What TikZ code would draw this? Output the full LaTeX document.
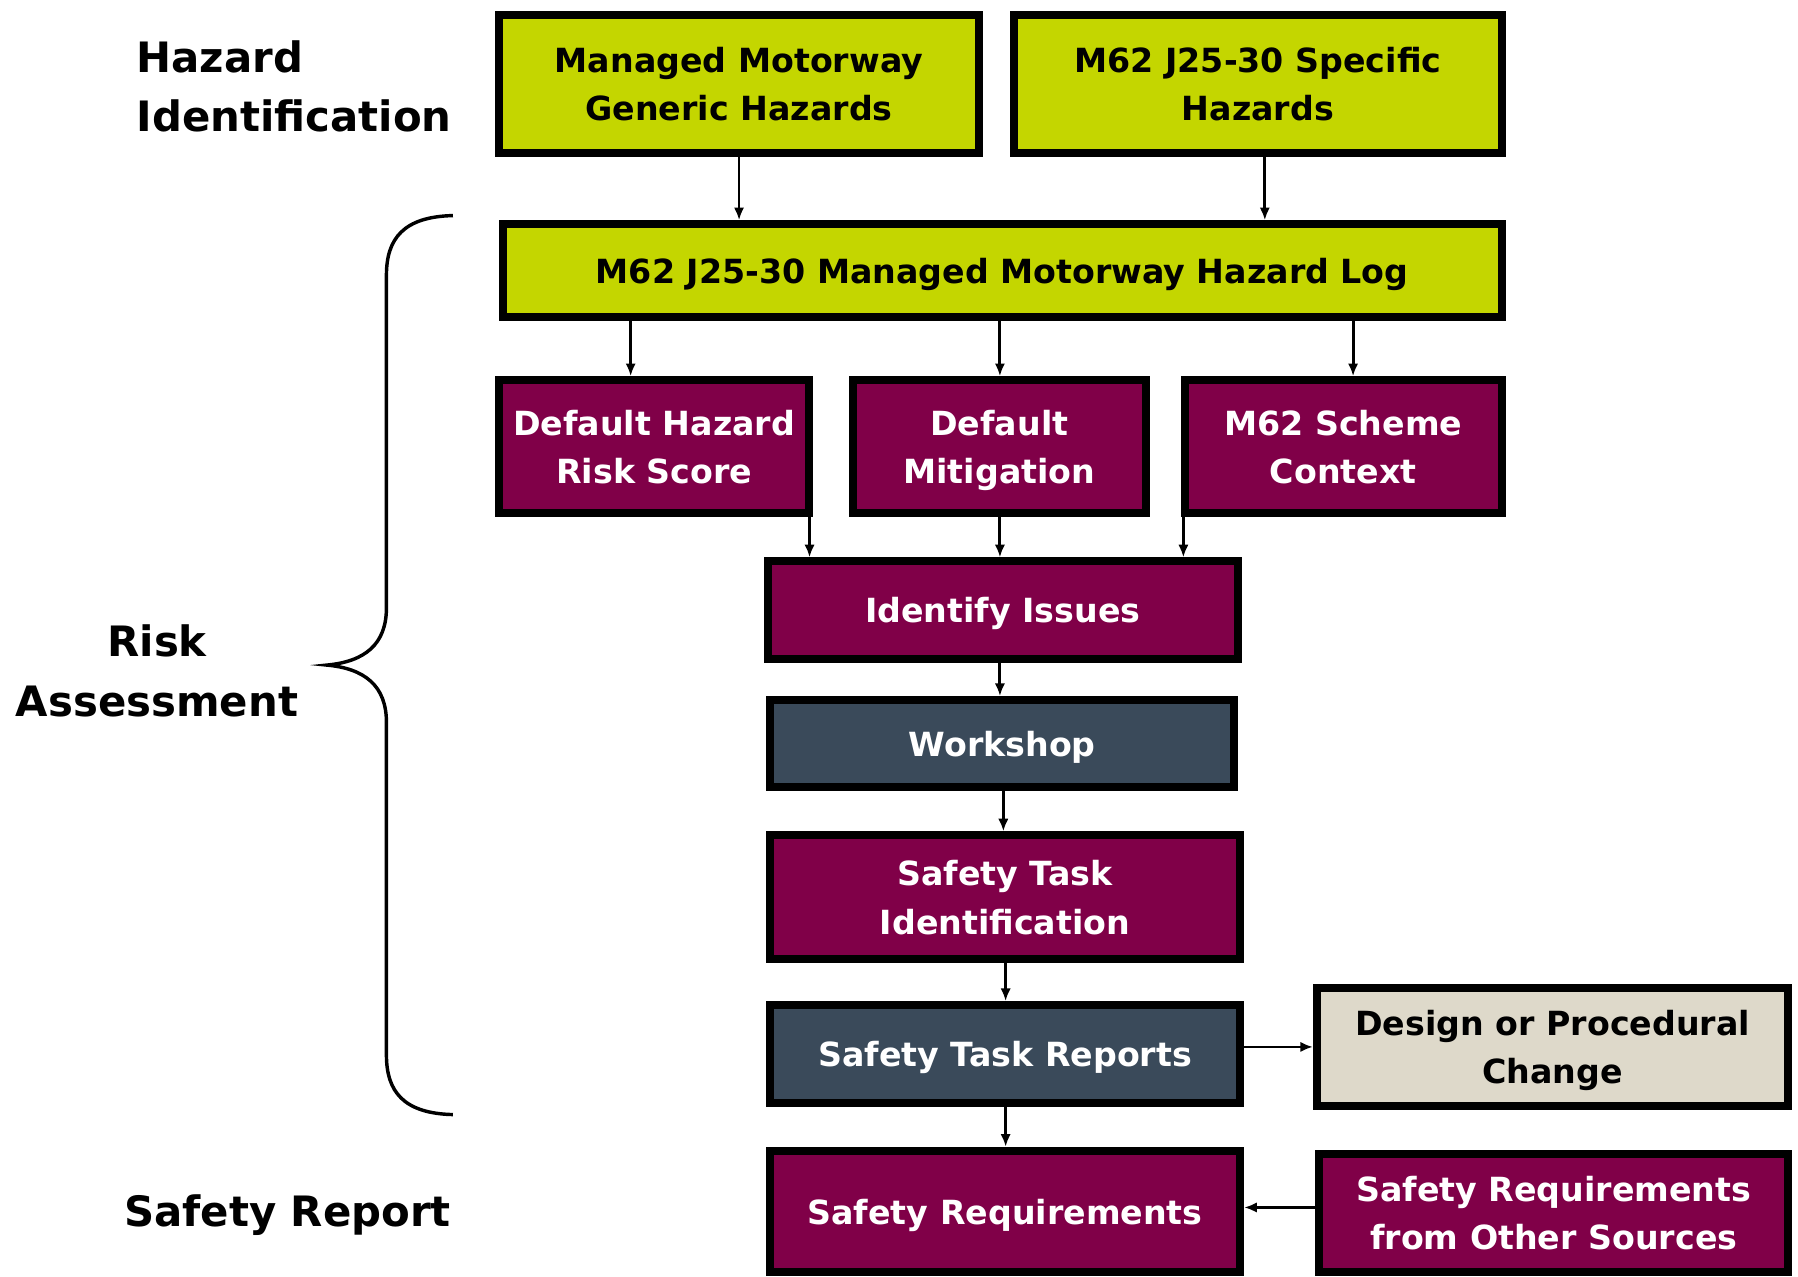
\documentclass[tikz,border=0pt]{standalone}
\usepackage{fontspec}
\setmainfont{DejaVu Sans}
\usetikzlibrary{arrows.meta}
\definecolor{limeg}{RGB}{196,214,0}
\definecolor{maroonc}{RGB}{128,0,72}
\definecolor{slatec}{RGB}{58,74,90}
\definecolor{beigec}{RGB}{222,217,202}
\begin{document}
\begin{tikzpicture}[x=1pt,y=-1pt,
  box/.style={draw=black,line width=7pt,rectangle,align=center,inner sep=0pt,text depth=0pt,
    font=\bfseries\fontsize{29}{42}\selectfont},
  limebox/.style={box,fill=limeg,text=black},
  marbox/.style={box,fill=maroonc,text=white},
  slatebox/.style={box,fill=slatec,text=white},
  beigebox/.style={box,fill=beigec,text=black},
  arr/.style={-{Latex[length=11pt,width=9pt]},line width=2.5pt},
  lbl/.style={font=\bfseries\fontsize{36.5}{52}\selectfont,inner sep=0pt,text depth=0pt,text=black}
]
\fill[white] (0,0) rectangle (1568,1113);
\useasboundingbox (0,0) rectangle (1568,1113);

% boxes
\node[limebox,minimum width=418,minimum height=120] (A) at (644.5,73.5) {Managed Motorway\\Generic Hazards};
\node[limebox,minimum width=425,minimum height=120] (B) at (1097,73.5) {M62 J25-30 Specific\\Hazards};
\node[limebox,minimum width=871,minimum height=81] (Log) at (874,236) {M62 J25-30 Managed Motorway Hazard Log};
\node[marbox,minimum width=270,minimum height=116] (DH) at (570.5,389.5) {Default Hazard\\Risk Score};
\node[marbox,minimum width=256,minimum height=116] (DM) at (871.5,389.5) {Default\\Mitigation};
\node[marbox,minimum width=276,minimum height=116] (SC) at (1171.5,389.5) {M62 Scheme\\Context};
\node[marbox,minimum width=410,minimum height=85] (II) at (874.5,532) {Identify Issues};
\node[slatebox,minimum width=405,minimum height=76] (WS) at (874,648.5) {Workshop};
\node[marbox,minimum width=410,minimum height=108] (STI) at (876.5,782.5) {Safety Task\\Identification};
\node[slatebox,minimum width=410,minimum height=85] (STR) at (876.5,919) {Safety Task Reports};
\node[beigebox,minimum width=411,minimum height=103] (DPC) at (1354,913) {Design or Procedural\\Change};
\node[marbox,minimum width=410,minimum height=106] (SR) at (876.5,1056.5) {Safety Requirements};
\node[marbox,minimum width=409,minimum height=103] (SRO) at (1355,1058) {Safety Requirements\\from Other Sources};

% side labels
\node[lbl,anchor=west,align=left] (HI) at (119,75) {Hazard\\Identification};
\node[lbl,align=center] (RA) at (137,585) {Risk\\Assessment};
\node[lbl,anchor=west] (SRep) at (108,1056) {Safety Report};

% brace
\draw[line width=3pt] (395,188) .. controls (352,189) and (337,208) .. (337,240)
  -- (337,530) .. controls (337,562) and (318,577) .. (285,580)
  .. controls (318,583) and (337,598) .. (337,630)
  -- (337,920) .. controls (337,952) and (352,971) .. (395,972);

% arrow columns
\coordinate (xB) at (1103,0);
\coordinate (x550) at (550,0);
\coordinate (x872) at (872,0);
\coordinate (x1180) at (1180,0);
\coordinate (x707) at (706,0);
\coordinate (x1032) at (1032,0);
\coordinate (x875) at (875,0);
\coordinate (x877) at (877,0);
\coordinate (y1053) at (0,1053);

\draw[arr] (A.south) -- (A.south |- Log.north);
\draw[arr] (xB |- B.south) -- (xB |- Log.north);
\draw[arr] (x550 |- Log.south) -- (x550 |- DH.north);
\draw[arr] (x872 |- Log.south) -- (x872 |- DM.north);
\draw[arr] (x1180 |- Log.south) -- (x1180 |- SC.north);
\draw[arr] (x707 |- DH.south) -- (x707 |- II.north);
\draw[arr] (x872 |- DM.south) -- (x872 |- II.north);
\draw[arr] (x1032 |- SC.south) -- (x1032 |- II.north);
\draw[arr] (x872 |- II.south) -- (x872 |- WS.north);
\draw[arr] (x875 |- WS.south) -- (x875 |- STI.north);
\draw[arr] (x877 |- STI.south) -- (x877 |- STR.north);
\draw[arr] (STR.east |- DPC.west) -- (DPC.west);
\draw[arr] (x877 |- STR.south) -- (x877 |- SR.north);
\draw[arr] (SRO.west |- y1053) -- (SR.east |- y1053);
\end{tikzpicture}
\end{document}
